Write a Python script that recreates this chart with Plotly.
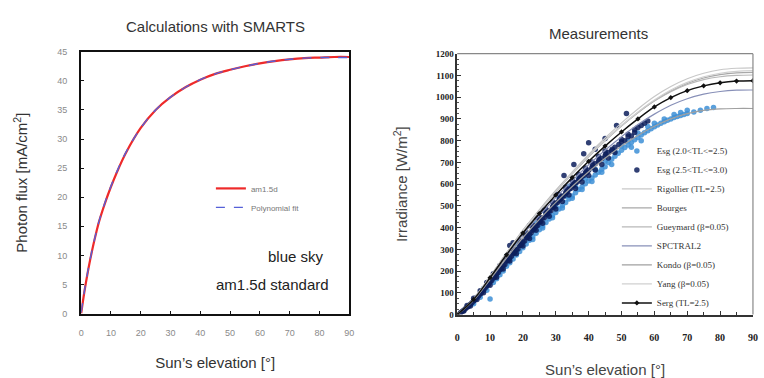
import plotly.graph_objects as go

# ---- Left panel: SMARTS photon flux vs. sun elevation ----
elev_calc = [0, 1, 2, 3, 4, 5, 6, 8, 10, 12, 15, 20, 25, 30, 35, 40, 45, 50, 55, 60, 65, 70, 75, 80, 85, 90]
flux_am15d = [0, 3.5, 6.5, 9.2, 11.6, 13.8, 15.8, 19.0, 21.8, 24.3, 27.6, 31.9, 35.0, 37.2, 38.9, 40.2,
              41.2, 41.9, 42.5, 43.0, 43.4, 43.7, 43.9, 44.0, 44.1, 44.1]
flux_poly = [0.2, 3.6, 6.6, 9.3, 11.7, 13.9, 15.9, 19.1, 21.9, 24.4, 27.7, 31.9, 35.0, 37.2, 38.9, 40.2,
             41.2, 41.9, 42.5, 43.0, 43.4, 43.7, 43.9, 44.0, 44.0, 44.0]

# ---- Right panel: model curves (W/m2) ----
elev_model = [0, 5, 10, 15, 20, 25, 30, 35, 40, 45, 50, 55, 60, 65, 70, 75, 80, 85, 90]
serg = [0, 70, 170, 275, 375, 465, 550, 630, 705, 775, 840, 900, 955, 998, 1030, 1052, 1066, 1074, 1076]
rigollier = [0, 72, 175, 283, 387, 482, 572, 656, 737, 812, 882, 946, 1003, 1049, 1085, 1110, 1126, 1133, 1135]
bourges = [0, 71, 173, 280, 383, 476, 564, 647, 726, 799, 867, 928, 983, 1028, 1063, 1088, 1104, 1112, 1114]
gueymard = [0, 73, 176, 284, 388, 481, 569, 651, 731, 803, 870, 930, 982, 1025, 1058, 1081, 1094, 1100, 1102]
spctral2 = [0, 68, 166, 269, 367, 455, 538, 615, 689, 756, 818, 874, 922, 963, 993, 1014, 1026, 1032, 1033]
kondo = [0, 66, 161, 260, 354, 438, 516, 589, 657, 719, 775, 824, 866, 900, 924, 939, 946, 948, 948]
yang = [0, 72, 174, 282, 385, 478, 566, 650, 729, 802, 870, 932, 987, 1033, 1068, 1094, 1110, 1119, 1122]

# ---- Right panel: measured global irradiance, two turbidity classes ----
esg_low_elev = [5, 7, 9, 10, 11, 12, 13, 14, 15, 16, 17, 18, 19, 20, 21, 22, 23, 24, 25, 26, 27, 28, 29, 30,
                31, 32, 33, 34, 35, 36, 37, 38, 39, 40, 41, 42, 43, 44, 45, 46, 47, 48, 49, 50, 51, 52, 53,
                54, 55, 56, 57, 58, 59, 60, 61, 62, 63, 64, 65, 66, 67, 68, 69, 70, 72, 74, 76, 78,
                20, 22, 25, 28, 30, 33, 36, 39, 42, 45, 48, 50, 52, 55, 58, 60, 63, 66, 68, 70, 56, 53,
                47, 44, 41, 38, 35, 32, 29, 26, 23,
                15, 18, 21, 24, 27, 31, 34, 37, 12, 8]
esg_low_val = [50, 80, 112, 72, 148, 165, 183, 200, 222, 238, 256, 274, 290, 308, 325, 342, 358, 374, 390,
               408, 424, 440, 456, 470, 486, 502, 516, 532, 546, 560, 575, 588, 602, 615, 628, 642, 655,
               668, 680, 700, 715, 728, 742, 756, 768, 780, 792, 804, 815, 826, 836, 846, 855, 864, 872,
               880, 887, 894, 900, 906, 911, 916, 920, 925, 932, 940, 948, 952,
               330, 365, 415, 465, 500, 545, 590, 625, 668, 705, 750, 775, 800, 835, 865, 880, 900, 920,
               930, 940, 800, 770, 690, 655, 612, 575, 535, 490, 445, 398, 345,
               270, 325, 370, 420, 470, 540, 590, 630, 200, 120]

esg_high_elev = [1, 1.5, 2, 2.5, 3, 3.5, 4, 4.5, 5, 5.5, 6, 6.5, 7, 7.5, 8, 8.5, 9, 9.5, 10, 10.5, 11, 11.5,
                 12, 12.5, 13, 13.5, 14, 14.5, 15, 15.5, 16, 16.5, 17, 17.5, 18, 18.5, 19, 19.5, 20, 20.5,
                 21, 21.5, 22, 22.5, 23, 23.5, 24, 24.5, 25, 25.5, 26, 26.5, 27, 27.5, 28, 28.5, 29, 29.5,
                 30, 30.5, 31, 31.5, 32, 32.5, 33, 33.5, 34, 34.5, 35, 35.5, 36, 36.5, 37, 37.5, 38, 38.5,
                 39, 39.5, 40, 41, 42, 43, 44, 45, 46, 47, 48, 50, 52, 54,
                 2, 4, 6, 8, 10, 12, 14, 16, 18, 20, 22, 24, 26, 28, 30, 32, 34, 36, 38, 40, 42, 44, 46, 48,
                 3, 5, 7, 9, 11, 13, 15, 17, 19, 21, 23, 25, 27, 29, 31, 33, 35, 37, 39, 41, 43, 45,
                 3.2, 5.2, 7.2, 9.2, 11.2, 13.2, 15.2, 17.2, 19.2, 21.2, 23.2, 25.2, 27.2, 29.2, 31.2,
                 33.2, 35.2, 37.2, 39.2, 41.2, 43.2, 45.2, 47.2, 49.2, 51, 53,
                 50, 52, 54, 56, 58, 55, 57,
                 17, 22, 26, 30, 32.5, 35.5, 38.5, 40, 48.5, 51.5, 45, 42, 20, 24, 16]
esg_high_val = [8, 14, 20, 27, 34, 40, 48, 55, 63, 70, 80, 86, 95, 104, 112, 122, 131, 138, 150, 157, 168,
                175, 188, 194, 206, 212, 226, 230, 245, 250, 262, 268, 280, 286, 298, 302, 318, 320, 334,
                338, 354, 356, 370, 376, 388, 394, 408, 410, 425, 428, 444, 446, 460, 462, 476, 478, 494,
                494, 512, 516, 526, 532, 544, 546, 558, 564, 576, 580, 592, 596, 606, 610, 620, 626, 636,
                640, 650, 654, 664, 676, 694, 704, 718, 730, 746, 754, 770, 795, 818, 838,
                16, 40, 70, 100, 135, 172, 210, 246, 280, 315, 350, 388, 420, 452, 486, 520, 550, 580,
                610, 640, 665, 690, 720, 745,
                42, 75, 110, 148, 188, 226, 265, 302, 340, 376, 412, 448, 484, 518, 552, 586, 616, 646,
                674, 702, 728, 752,
                36, 66, 98, 136, 172, 212, 250, 286, 322, 358, 394, 430, 466, 500, 534, 566, 598, 626,
                656, 686, 712, 738, 760, 782, 800, 822,
                805, 830, 850, 870, 890, 860, 880,
                330, 410, 480, 555, 640, 690, 740, 790, 870, 925, 810, 760, 372, 445, 318]

x_ticks = [0, 10, 20, 30, 40, 50, 60, 70, 80, 90]

fig = go.Figure()

# left panel traces
fig.add_trace(go.Scatter(x=elev_calc, y=flux_am15d, mode="lines", name="am1.5d",
                         line=dict(color="#ee2a2a", width=2.2, shape="spline"), xaxis="x", yaxis="y",
                         legend="legend"))
fig.add_trace(go.Scatter(x=elev_calc, y=flux_poly, mode="lines", name="Polynomial fit",
                         line=dict(color="#5560d8", width=1.4, dash="dash", shape="spline"),
                         xaxis="x", yaxis="y", legend="legend"))

# right panel traces
fig.add_trace(go.Scatter(x=esg_low_elev, y=esg_low_val, mode="markers", name="Esg (2.0<TL<=2.5)",
                         marker=dict(color="#3d8fd6", size=5.5, opacity=0.85), xaxis="x2", yaxis="y2",
                         legend="legend2"))
fig.add_trace(go.Scatter(x=esg_high_elev, y=esg_high_val, mode="markers", name="Esg (2.5<TL<=3.0)",
                         marker=dict(color="#0d1f5c", size=5.5, opacity=0.85), xaxis="x2", yaxis="y2",
                         legend="legend2"))

model_styles = [
    ("Rigollier (TL=2.5)", rigollier, "#c8c8c8"),
    ("Bourges", bourges, "#a8a8a8"),
    ("Gueymard (β=0.05)", gueymard, "#b8b8b8"),
    ("SPCTRAL2", spctral2, "#8890b8"),
    ("Kondo (β=0.05)", kondo, "#a0a0a0"),
    ("Yang (β=0.05)", yang, "#d0d0d0"),
]
for name, vals, col in model_styles:
    fig.add_trace(go.Scatter(x=elev_model, y=vals, mode="lines", name=name,
                             line=dict(color=col, width=1.2, shape="spline"),
                             xaxis="x2", yaxis="y2", legend="legend2"))

fig.add_trace(go.Scatter(x=elev_model, y=serg, mode="lines+markers", name="Serg (TL=2.5)",
                         line=dict(color="#111111", width=1.5, shape="spline"),
                         marker=dict(symbol="diamond", size=4, color="#111111"),
                         xaxis="x2", yaxis="y2", legend="legend2"))

sans = "Liberation Sans, Arial, sans-serif"
serif = "Liberation Serif, Times New Roman, serif"

fig.update_layout(
    width=764, height=378,
    margin=dict(l=0, r=0, t=0, b=0),
    paper_bgcolor="white", plot_bgcolor="white",
    font=dict(family=sans, color="#333333"),
    xaxis=dict(domain=[0.1034, 0.458], range=[0, 90], tickvals=x_ticks,
               showline=True, mirror=True, linecolor="#111111", linewidth=2,
               ticks="inside", ticklen=3, tickcolor="#111111", showgrid=False, zeroline=False,
               tickfont=dict(size=9, color="#8a8a8a"), ticklabelstandoff=10,
               title=dict(text="Sun’s elevation [°]", font=dict(size=15, color="#333333"), standoff=20)),
    yaxis=dict(domain=[0.1614, 0.873], range=[0, 45], tickvals=[0, 5, 10, 15, 20, 25, 30, 35, 40, 45],
               showline=True, mirror=True, linecolor="#111111", linewidth=2,
               ticks="inside", ticklen=3, tickcolor="#111111", showgrid=False, zeroline=False,
               tickfont=dict(size=9, color="#8a8a8a"), ticklabelstandoff=10,
               title=dict(text="Photon flux [mA/cm<sup>2</sup>]", font=dict(size=15, color="#333333"),
                          standoff=26)),
    xaxis2=dict(domain=[0.6008, 0.992], range=[0, 90], tickvals=x_ticks, anchor="y2",
                showline=True, mirror=False, linecolor="#333333", linewidth=1.5,
                ticks="inside", ticklen=4, tickcolor="#333333", showgrid=False, zeroline=False,
                minor=dict(dtick=5, ticks="inside", ticklen=3, tickcolor="#333333"),
                tickfont=dict(size=10, color="#222222", family=serif, weight="bold"), ticklabelstandoff=13,
                title=dict(text="Sun’s elevation [°]", font=dict(size=15, color="#444444"), standoff=22)),
    yaxis2=dict(domain=[0.1587, 0.8677], range=[0, 1200], dtick=100, anchor="x2",
                showline=True, mirror=False, linecolor="#333333", linewidth=1.5,
                ticks="inside", ticklen=4, tickcolor="#333333", showgrid=False, zeroline=False,
                minor=dict(dtick=25, ticks="inside", ticklen=2, tickcolor="#555555"),
                tickfont=dict(size=9, color="#222222", family=serif, weight="bold"),
                title=dict(text="Irradiance [W/m<sup>2</sup>]", font=dict(size=15, color="#444444"),
                           standoff=24)),
    legend=dict(x=0.275, y=0.541, xanchor="left", yanchor="top", bgcolor="rgba(0,0,0,0)",
                font=dict(size=8, color="#777777"), itemwidth=30, tracegroupgap=0),
    legend2=dict(x=0.812, y=0.643, xanchor="left", yanchor="top", bgcolor="rgba(0,0,0,0)",
                 font=dict(size=9, color="#333333", family=serif), itemwidth=30, tracegroupgap=0),
    showlegend=True,
)

# light frame on the top and right of the measurement panel
fig.add_shape(type="line", xref="x2 domain", yref="y2 domain", x0=0, x1=1, y0=1, y1=1,
              line=dict(color="#888888", width=1.2))
fig.add_shape(type="line", xref="x2 domain", yref="y2 domain", x0=1, x1=1, y0=0, y1=1,
              line=dict(color="#888888", width=1.2))

annotations = [
    dict(text="Calculations with SMARTS", x=215 / 764, y=1 - 22 / 378, xref="paper", yref="paper",
         xanchor="center", yanchor="middle", showarrow=False, font=dict(size=15, color="#333333")),
    dict(text="Measurements", x=602 / 764, y=1 - 29 / 378, xref="paper", yref="paper",
         xanchor="center", yanchor="middle", showarrow=False, font=dict(size=15, color="#333333")),
    dict(text="blue sky", x=326 / 764, y=1 - 258 / 378, xref="paper", yref="paper", xanchor="right",
         yanchor="middle", showarrow=False, font=dict(size=15, color="#222222")),
    dict(text="am1.5d standard", x=331 / 764, y=1 - 287 / 378, xref="paper", yref="paper",
         xanchor="right", yanchor="middle", showarrow=False, font=dict(size=15, color="#222222")),
]
fig.update_layout(annotations=annotations)

fig.write_html("out.html")
